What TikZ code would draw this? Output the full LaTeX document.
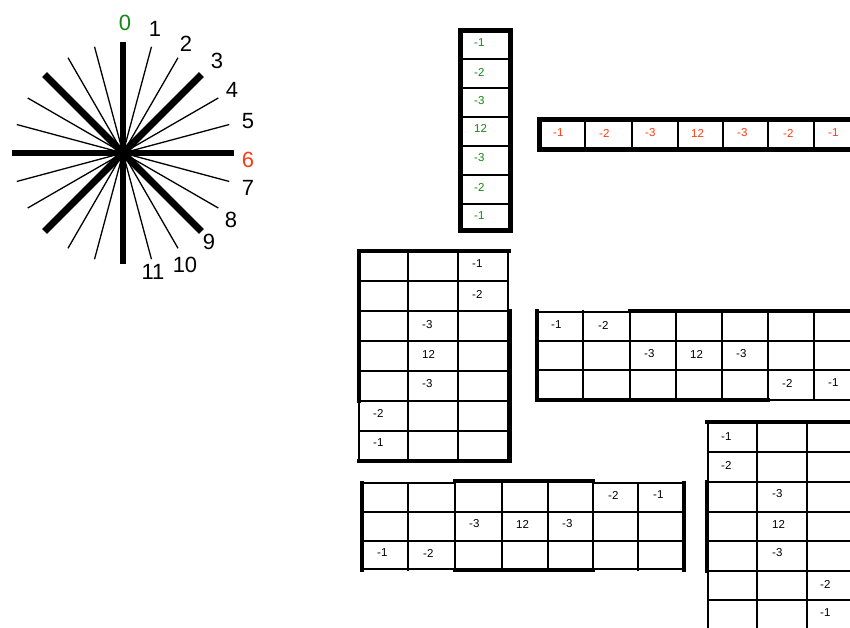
\documentclass[tikz,border=0pt]{standalone}
\usepackage{fontspec}
\setmainfont{Liberation Sans}
\definecolor{kgreen}{RGB}{20,135,20}
\definecolor{kred}{RGB}{250,60,20}
\tikzset{
  gl/.style={line width=1.7pt, line cap=rect},
  tk/.style={line width=4.8pt, line cap=rect},
  cell/.style={anchor=west, inner sep=0pt, font=\fontsize{11.5}{13}\selectfont},
  spokethin/.style={line width=1.3pt},
  spokethick/.style={line width=6.8pt},
  lab/.style={inner sep=0pt, font=\fontsize{22}{25}\selectfont}
}
\begin{document}
\begin{tikzpicture}[x=1pt,y=-1pt]
\useasboundingbox (0,0) rectangle (850,628);
\fill[white] (0,0) rectangle (850,628);
\clip (0,0) rectangle (850,628);

% ---------- star ----------
\coordinate (star) at (123,153);
\begin{scope}[shift={(star)}]
  \foreach \a in {15,30,60,75,105,120,150,165}
    \draw[spokethin] (\a:110) -- (\a+180:110);
  \foreach \a in {0,45,90,135}
    \draw[spokethick] (\a:111) -- (\a+180:111);
\end{scope}
\node[lab, kgreen] (l0) at (125,22.5) {0};
\node[lab] (l1) at (155,29) {1};
\node[lab] (l2) at (186,44) {2};
\node[lab] (l3) at (217,61) {3};
\node[lab] (l4) at (232,90) {4};
\node[lab] (l5) at (248,121) {5};
\node[lab, kred] (l6) at (248,159.5) {6};
\node[lab] (l7) at (248,188) {7};
\node[lab] (l8) at (231,220) {8};
\node[lab] (l9) at (209,242) {9};
\node[lab] (l10) at (185,265) {10};
\node[lab] (l11) at (153,272) {11};

% ---------- green column ----------
\foreach \y in {59,88,117,146,175,204}
  \draw[gl] (460.5,\y) -- (510.5,\y);
\draw[tk] (460.5,30.5) rectangle (510.5,230.5);
\foreach \t/\y [count=\i] in {-1/43,-2/72,-3/101,12/128,-3/158,-2/187,-1/216}
  \node[cell, text=kgreen] (g\i) at (474,\y) {\t};

% ---------- red row ----------
\foreach \x in {585,632,678,723,768,814}
  \draw[gl] (\x,119.5) -- (\x,149.5);
\draw[tk] (870,119.5) -- (539.5,119.5) -- (539.5,149.5) -- (870,149.5);
\foreach \t/\x [count=\i] in {-1/553,-2/599,-3/645,12/691,-3/737,-2/783,-1/828}
  \node[cell, text=kred] (r\i) at (\x,133) {\t};

% ---------- grid 1 (3 x 7) ----------
\foreach \x in {359,408,458,508}
  \draw[gl] (\x,251) -- (\x,461);
\foreach \y in {251,281,311,341,371,401,431,461}
  \draw[gl] (359,\y) -- (508,\y);
\draw[tk] (359,401) -- (359,251) -- (509,251);
\draw[tk] (509.5,311) -- (509.5,461) -- (359,461);
\node[cell] (a1) at (472,264) {-1};
\node[cell] (a2) at (472,294) {-2};
\node[cell] (a3) at (422,325) {-3};
\node[cell] (a4) at (422,354) {12};
\node[cell] (a5) at (422,384) {-3};
\node[cell] (a6) at (373,413) {-2};
\node[cell] (a7) at (373,443) {-1};

% ---------- grid 2 (7 x 3) ----------
\foreach \x in {583,630,676,722,768,814}
  \draw[gl] (\x,311) -- (\x,400);
\foreach \y in {341,370}
  \draw[gl] (537,\y) -- (870,\y);
\draw[gl] (537,312) -- (630,312);
\draw[gl] (768,400) -- (870,400);
\draw[tk] (630,311) -- (870,311);
\draw[tk] (537,311) -- (537,400) -- (768,400);
\node[cell] (b1) at (551,325) {-1};
\node[cell] (b2) at (598,325) {-2};
\node[cell] (b3) at (644,354) {-3};
\node[cell] (b4) at (690,354) {12};
\node[cell] (b5) at (736,354) {-3};
\node[cell] (b6) at (782,383) {-2};
\node[cell] (b7) at (828,383) {-1};

% ---------- grid 3 (7 x 3) ----------
\foreach \x in {408,455,502,548,593,638}
  \draw[gl] (\x,483) -- (\x,570);
\foreach \y in {512,541}
  \draw[gl] (362,\y) -- (684,\y);
\draw[gl] (362,483) -- (455,483);
\draw[gl] (593,483) -- (684,483);
\draw[gl] (362,569) -- (455,569);
\draw[gl] (593,569) -- (684,569);
\draw[tk] (362,483) -- (362,570);
\draw[tk] (684,483) -- (684,570);
\draw[tk] (455,481) -- (593,481);
\draw[tk] (455,570) -- (593,570);
\node[cell] (c1) at (608,495) {-2};
\node[cell] (c2) at (653,495) {-1};
\node[cell] (c3) at (469,524) {-3};
\node[cell] (c4) at (516,524) {12};
\node[cell] (c5) at (562,524) {-3};
\node[cell] (c6) at (377,553) {-1};
\node[cell] (c7) at (423,553) {-2};

% ---------- grid 4 (3 x 7) ----------
\foreach \x in {708,757,807}
  \draw[gl] (\x,422) -- (\x,640);
\foreach \y in {452,482,512,541,571,600}
  \draw[gl] (708,\y) -- (870,\y);
\draw[tk] (707,422) -- (870,422);
\draw[tk] (707,482) -- (707,571);
\node[cell] (d1) at (721,437) {-1};
\node[cell] (d2) at (721,465) {-2};
\node[cell] (d3) at (772,494) {-3};
\node[cell] (d4) at (772,524) {12};
\node[cell] (d5) at (772,553) {-3};
\node[cell] (d6) at (820,584) {-2};
\node[cell] (d7) at (820,613) {-1};
\end{tikzpicture}
\end{document}
